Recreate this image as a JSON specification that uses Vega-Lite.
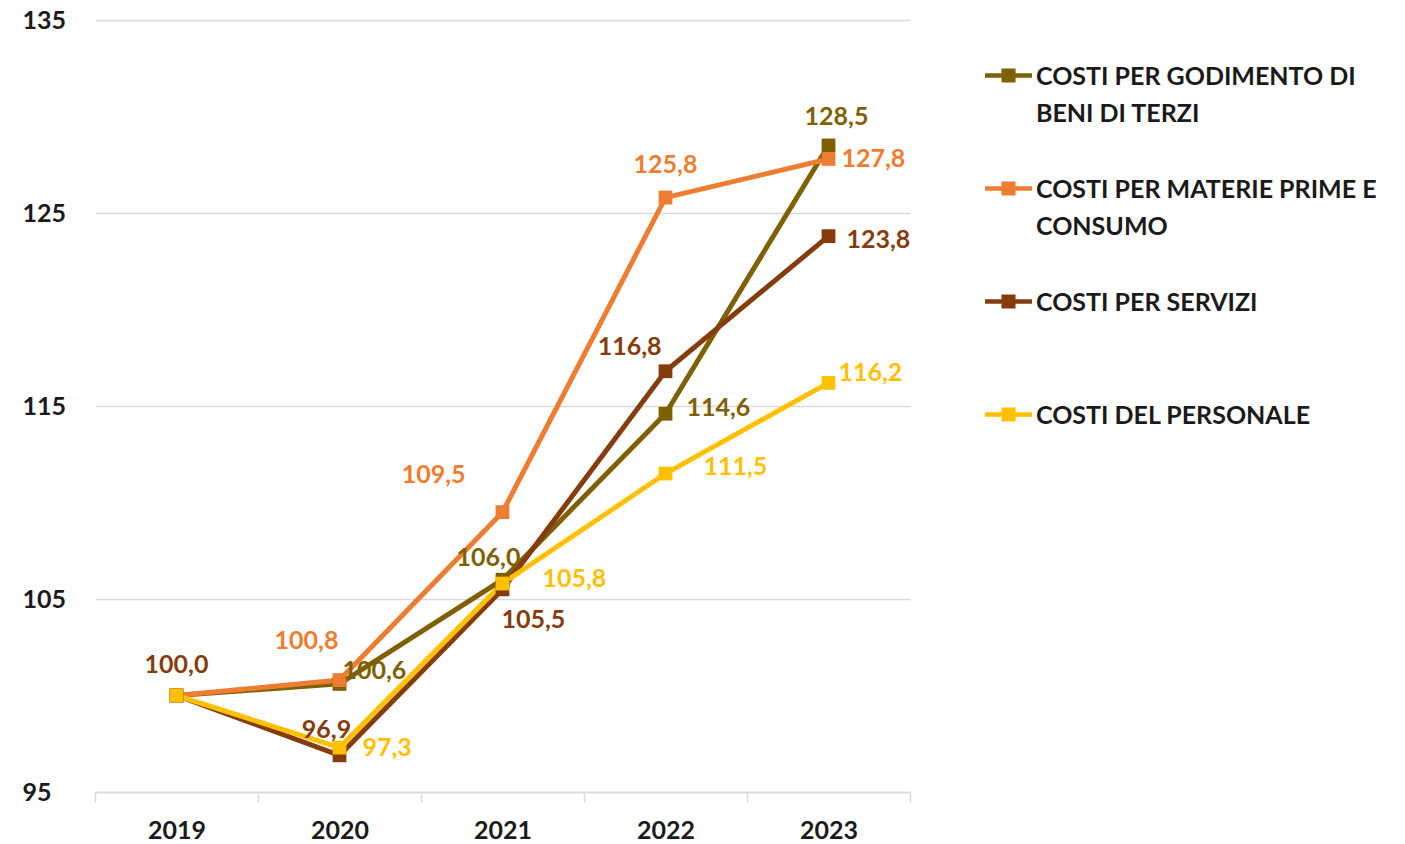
{
  "$schema": "https://vega.github.io/schema/vega-lite/v6.json",
  "width": 815,
  "height": 772,
  "autosize": "none",
  "padding": {"left": 95, "top": 20, "right": 495, "bottom": 52},
  "background": "white",
  "config": {
    "view": {"stroke": null},
    "locale": {"number": {"decimal": ",", "thousands": ".", "grouping": [3], "currency": ["", " €"]}},
    "font": "Lato",
    "legend": {
      "orient": "none",
      "legendX": 890,
      "legendY": 32,
      "padding": 0,
      "title": null,
      "symbolType": "M-1,-0.1H-0.3V-0.3H0.3V-0.1H1V0.1H0.3V0.3H-0.3V0.1H-1Z",
      "symbolSize": 2209,
      "symbolStrokeWidth": 0,
      "labelFont": "Lato",
      "labelFontSize": 25,
      "labelFontWeight": "bold",
      "labelColor": "#1a1a1a",
      "labelLimit": 500,
      "labelOffset": 4,
      "labelBaseline": "alphabetic",
      "rowPadding": 38,
      "gridAlign": "all"
    }
  },
  "data": {
    "values": [
      {"anno": "2019", "voce": "COSTI PER GODIMENTO DI BENI DI TERZI", "valore": 100.0},
      {"anno": "2020", "voce": "COSTI PER GODIMENTO DI BENI DI TERZI", "valore": 100.6},
      {"anno": "2021", "voce": "COSTI PER GODIMENTO DI BENI DI TERZI", "valore": 106.0},
      {"anno": "2022", "voce": "COSTI PER GODIMENTO DI BENI DI TERZI", "valore": 114.6},
      {"anno": "2023", "voce": "COSTI PER GODIMENTO DI BENI DI TERZI", "valore": 128.5},
      {"anno": "2019", "voce": "COSTI PER MATERIE PRIME E CONSUMO", "valore": 100.0},
      {"anno": "2020", "voce": "COSTI PER MATERIE PRIME E CONSUMO", "valore": 100.8},
      {"anno": "2021", "voce": "COSTI PER MATERIE PRIME E CONSUMO", "valore": 109.5},
      {"anno": "2022", "voce": "COSTI PER MATERIE PRIME E CONSUMO", "valore": 125.8},
      {"anno": "2023", "voce": "COSTI PER MATERIE PRIME E CONSUMO", "valore": 127.8},
      {"anno": "2019", "voce": "COSTI PER SERVIZI", "valore": 100.0},
      {"anno": "2020", "voce": "COSTI PER SERVIZI", "valore": 96.9},
      {"anno": "2021", "voce": "COSTI PER SERVIZI", "valore": 105.5},
      {"anno": "2022", "voce": "COSTI PER SERVIZI", "valore": 116.8},
      {"anno": "2023", "voce": "COSTI PER SERVIZI", "valore": 123.8},
      {"anno": "2019", "voce": "COSTI DEL PERSONALE", "valore": 100.0},
      {"anno": "2020", "voce": "COSTI DEL PERSONALE", "valore": 97.3},
      {"anno": "2021", "voce": "COSTI DEL PERSONALE", "valore": 105.8},
      {"anno": "2022", "voce": "COSTI DEL PERSONALE", "valore": 111.5},
      {"anno": "2023", "voce": "COSTI DEL PERSONALE", "valore": 116.2}
    ]
  },
  "encoding": {
    "x": {
      "field": "anno", "type": "nominal", "bandPosition": 0.5,
      "scale": {"type": "band", "paddingInner": 0, "paddingOuter": 0},
      "axis": {
        "title": null, "labelAngle": 0, "tickBand": "extent", "grid": false,
        "domainColor": "#D9D9D9", "domainWidth": 1.5, "tickColor": "#D9D9D9", "tickWidth": 1.5, "tickSize": 10,
        "labelPadding": 16, "labelFont": "Lato", "labelFontSize": 25, "labelFontWeight": "bold", "labelColor": "#1a1a1a",
        "labelBaseline": "top"
      }
    },
    "y": {
      "field": "valore", "type": "quantitative",
      "scale": {"domain": [95, 135], "nice": false, "zero": false},
      "axis": {
        "title": null, "values": [95, 105, 115, 125, 135], "domain": false, "ticks": false,
        "gridColor": "#D9D9D9", "gridWidth": 1.5,
        "labelAlign": "left", "labelPadding": 73, "labelFont": "Lato", "labelFontSize": 25, "labelFontWeight": "bold", "labelColor": "#1a1a1a"
      }
    },
    "color": {
      "field": "voce", "type": "nominal",
      "scale": {
        "domain": ["COSTI PER GODIMENTO DI BENI DI TERZI", "COSTI PER MATERIE PRIME E CONSUMO", "COSTI PER SERVIZI", "COSTI DEL PERSONALE"],
        "range": ["#7F6000", "#ED7D31", "#843C0C", "#FFC000"]
      },
      "legend": {
        "labelExpr": "datum.label == 'COSTI PER GODIMENTO DI BENI DI TERZI' ? ['COSTI PER GODIMENTO DI', 'BENI DI TERZI'] : datum.label == 'COSTI PER MATERIE PRIME E CONSUMO' ? ['COSTI PER MATERIE PRIME E', 'CONSUMO'] : datum.label",
        "encode": {
          "symbols": {"update": {"fill": {"scale": "color", "field": "value"}, "stroke": {"value": "transparent"}, "opacity": {"value": 1}}},
          "labels": {"update": {"dy": {"value": 9}, "lineHeight": {"value": 37.5}}}
        }
      }
    }
  },
  "layer": [
    {"mark": {"type": "line", "strokeWidth": 5}},
    {"mark": {"type": "point", "shape": "square", "filled": true, "size": 190, "opacity": 1}},
    {"transform": [{"filter": "test(/GODIMENTO/, datum.voce) && datum.anno == '2020'"}], "mark": {"type": "text", "align": "left", "baseline": "middle", "dx": 3, "dy": -13, "font": "Lato", "fontSize": 25, "fontWeight": "bold"}, "encoding": {"text": {"field": "valore", "type": "quantitative", "format": ".1f"}}},
    {"transform": [{"filter": "test(/GODIMENTO/, datum.voce) && datum.anno == '2021'"}], "mark": {"type": "text", "align": "center", "baseline": "middle", "dx": -14, "dy": -22, "font": "Lato", "fontSize": 25, "fontWeight": "bold"}, "encoding": {"text": {"field": "valore", "type": "quantitative", "format": ".1f"}}},
    {"transform": [{"filter": "test(/GODIMENTO/, datum.voce) && datum.anno == '2022'"}], "mark": {"type": "text", "align": "left", "baseline": "middle", "dx": 21, "dy": -6, "font": "Lato", "fontSize": 25, "fontWeight": "bold"}, "encoding": {"text": {"field": "valore", "type": "quantitative", "format": ".1f"}}},
    {"transform": [{"filter": "test(/GODIMENTO/, datum.voce) && datum.anno == '2023'"}], "mark": {"type": "text", "align": "center", "baseline": "middle", "dx": 8, "dy": -28, "font": "Lato", "fontSize": 25, "fontWeight": "bold"}, "encoding": {"text": {"field": "valore", "type": "quantitative", "format": ".1f"}}},
    {"transform": [{"filter": "test(/MATERIE/, datum.voce) && datum.anno == '2020'"}], "mark": {"type": "text", "align": "center", "baseline": "middle", "dx": -33, "dy": -39, "font": "Lato", "fontSize": 25, "fontWeight": "bold"}, "encoding": {"text": {"field": "valore", "type": "quantitative", "format": ".1f"}}},
    {"transform": [{"filter": "test(/MATERIE/, datum.voce) && datum.anno == '2021'"}], "mark": {"type": "text", "align": "right", "baseline": "middle", "dx": -37, "dy": -37, "font": "Lato", "fontSize": 25, "fontWeight": "bold"}, "encoding": {"text": {"field": "valore", "type": "quantitative", "format": ".1f"}}},
    {"transform": [{"filter": "test(/MATERIE/, datum.voce) && datum.anno == '2022'"}], "mark": {"type": "text", "align": "center", "baseline": "middle", "dx": 0, "dy": -33, "font": "Lato", "fontSize": 25, "fontWeight": "bold"}, "encoding": {"text": {"field": "valore", "type": "quantitative", "format": ".1f"}}},
    {"transform": [{"filter": "test(/MATERIE/, datum.voce) && datum.anno == '2023'"}], "mark": {"type": "text", "align": "left", "baseline": "middle", "dx": 13, "dy": 0, "font": "Lato", "fontSize": 25, "fontWeight": "bold"}, "encoding": {"text": {"field": "valore", "type": "quantitative", "format": ".1f"}}},
    {"transform": [{"filter": "test(/SERVIZI/, datum.voce) && datum.anno == '2019'"}], "mark": {"type": "text", "align": "center", "baseline": "middle", "dx": 0, "dy": -31, "font": "Lato", "fontSize": 25, "fontWeight": "bold"}, "encoding": {"text": {"field": "valore", "type": "quantitative", "format": ".1f"}}},
    {"transform": [{"filter": "test(/SERVIZI/, datum.voce) && datum.anno == '2020'"}], "mark": {"type": "text", "align": "center", "baseline": "middle", "dx": -13, "dy": -25, "font": "Lato", "fontSize": 25, "fontWeight": "bold"}, "encoding": {"text": {"field": "valore", "type": "quantitative", "format": ".1f"}}},
    {"transform": [{"filter": "test(/SERVIZI/, datum.voce) && datum.anno == '2021'"}], "mark": {"type": "text", "align": "left", "baseline": "middle", "dx": -1, "dy": 31, "font": "Lato", "fontSize": 25, "fontWeight": "bold"}, "encoding": {"text": {"field": "valore", "type": "quantitative", "format": ".1f"}}},
    {"transform": [{"filter": "test(/SERVIZI/, datum.voce) && datum.anno == '2022'"}], "mark": {"type": "text", "align": "right", "baseline": "middle", "dx": -4, "dy": -24, "font": "Lato", "fontSize": 25, "fontWeight": "bold"}, "encoding": {"text": {"field": "valore", "type": "quantitative", "format": ".1f"}}},
    {"transform": [{"filter": "test(/SERVIZI/, datum.voce) && datum.anno == '2023'"}], "mark": {"type": "text", "align": "left", "baseline": "middle", "dx": 18, "dy": 4, "font": "Lato", "fontSize": 25, "fontWeight": "bold"}, "encoding": {"text": {"field": "valore", "type": "quantitative", "format": ".1f"}}},
    {"transform": [{"filter": "test(/PERSONALE/, datum.voce) && datum.anno == '2020'"}], "mark": {"type": "text", "align": "left", "baseline": "middle", "dx": 23, "dy": 0, "font": "Lato", "fontSize": 25, "fontWeight": "bold"}, "encoding": {"text": {"field": "valore", "type": "quantitative", "format": ".1f"}}},
    {"transform": [{"filter": "test(/PERSONALE/, datum.voce) && datum.anno == '2021'"}], "mark": {"type": "text", "align": "left", "baseline": "middle", "dx": 40, "dy": -5, "font": "Lato", "fontSize": 25, "fontWeight": "bold"}, "encoding": {"text": {"field": "valore", "type": "quantitative", "format": ".1f"}}},
    {"transform": [{"filter": "test(/PERSONALE/, datum.voce) && datum.anno == '2022'"}], "mark": {"type": "text", "align": "left", "baseline": "middle", "dx": 38, "dy": -7, "font": "Lato", "fontSize": 25, "fontWeight": "bold"}, "encoding": {"text": {"field": "valore", "type": "quantitative", "format": ".1f"}}},
    {"transform": [{"filter": "test(/PERSONALE/, datum.voce) && datum.anno == '2023'"}], "mark": {"type": "text", "align": "left", "baseline": "middle", "dx": 10, "dy": -10, "font": "Lato", "fontSize": 25, "fontWeight": "bold"}, "encoding": {"text": {"field": "valore", "type": "quantitative", "format": ".1f"}}}
  ]
}
